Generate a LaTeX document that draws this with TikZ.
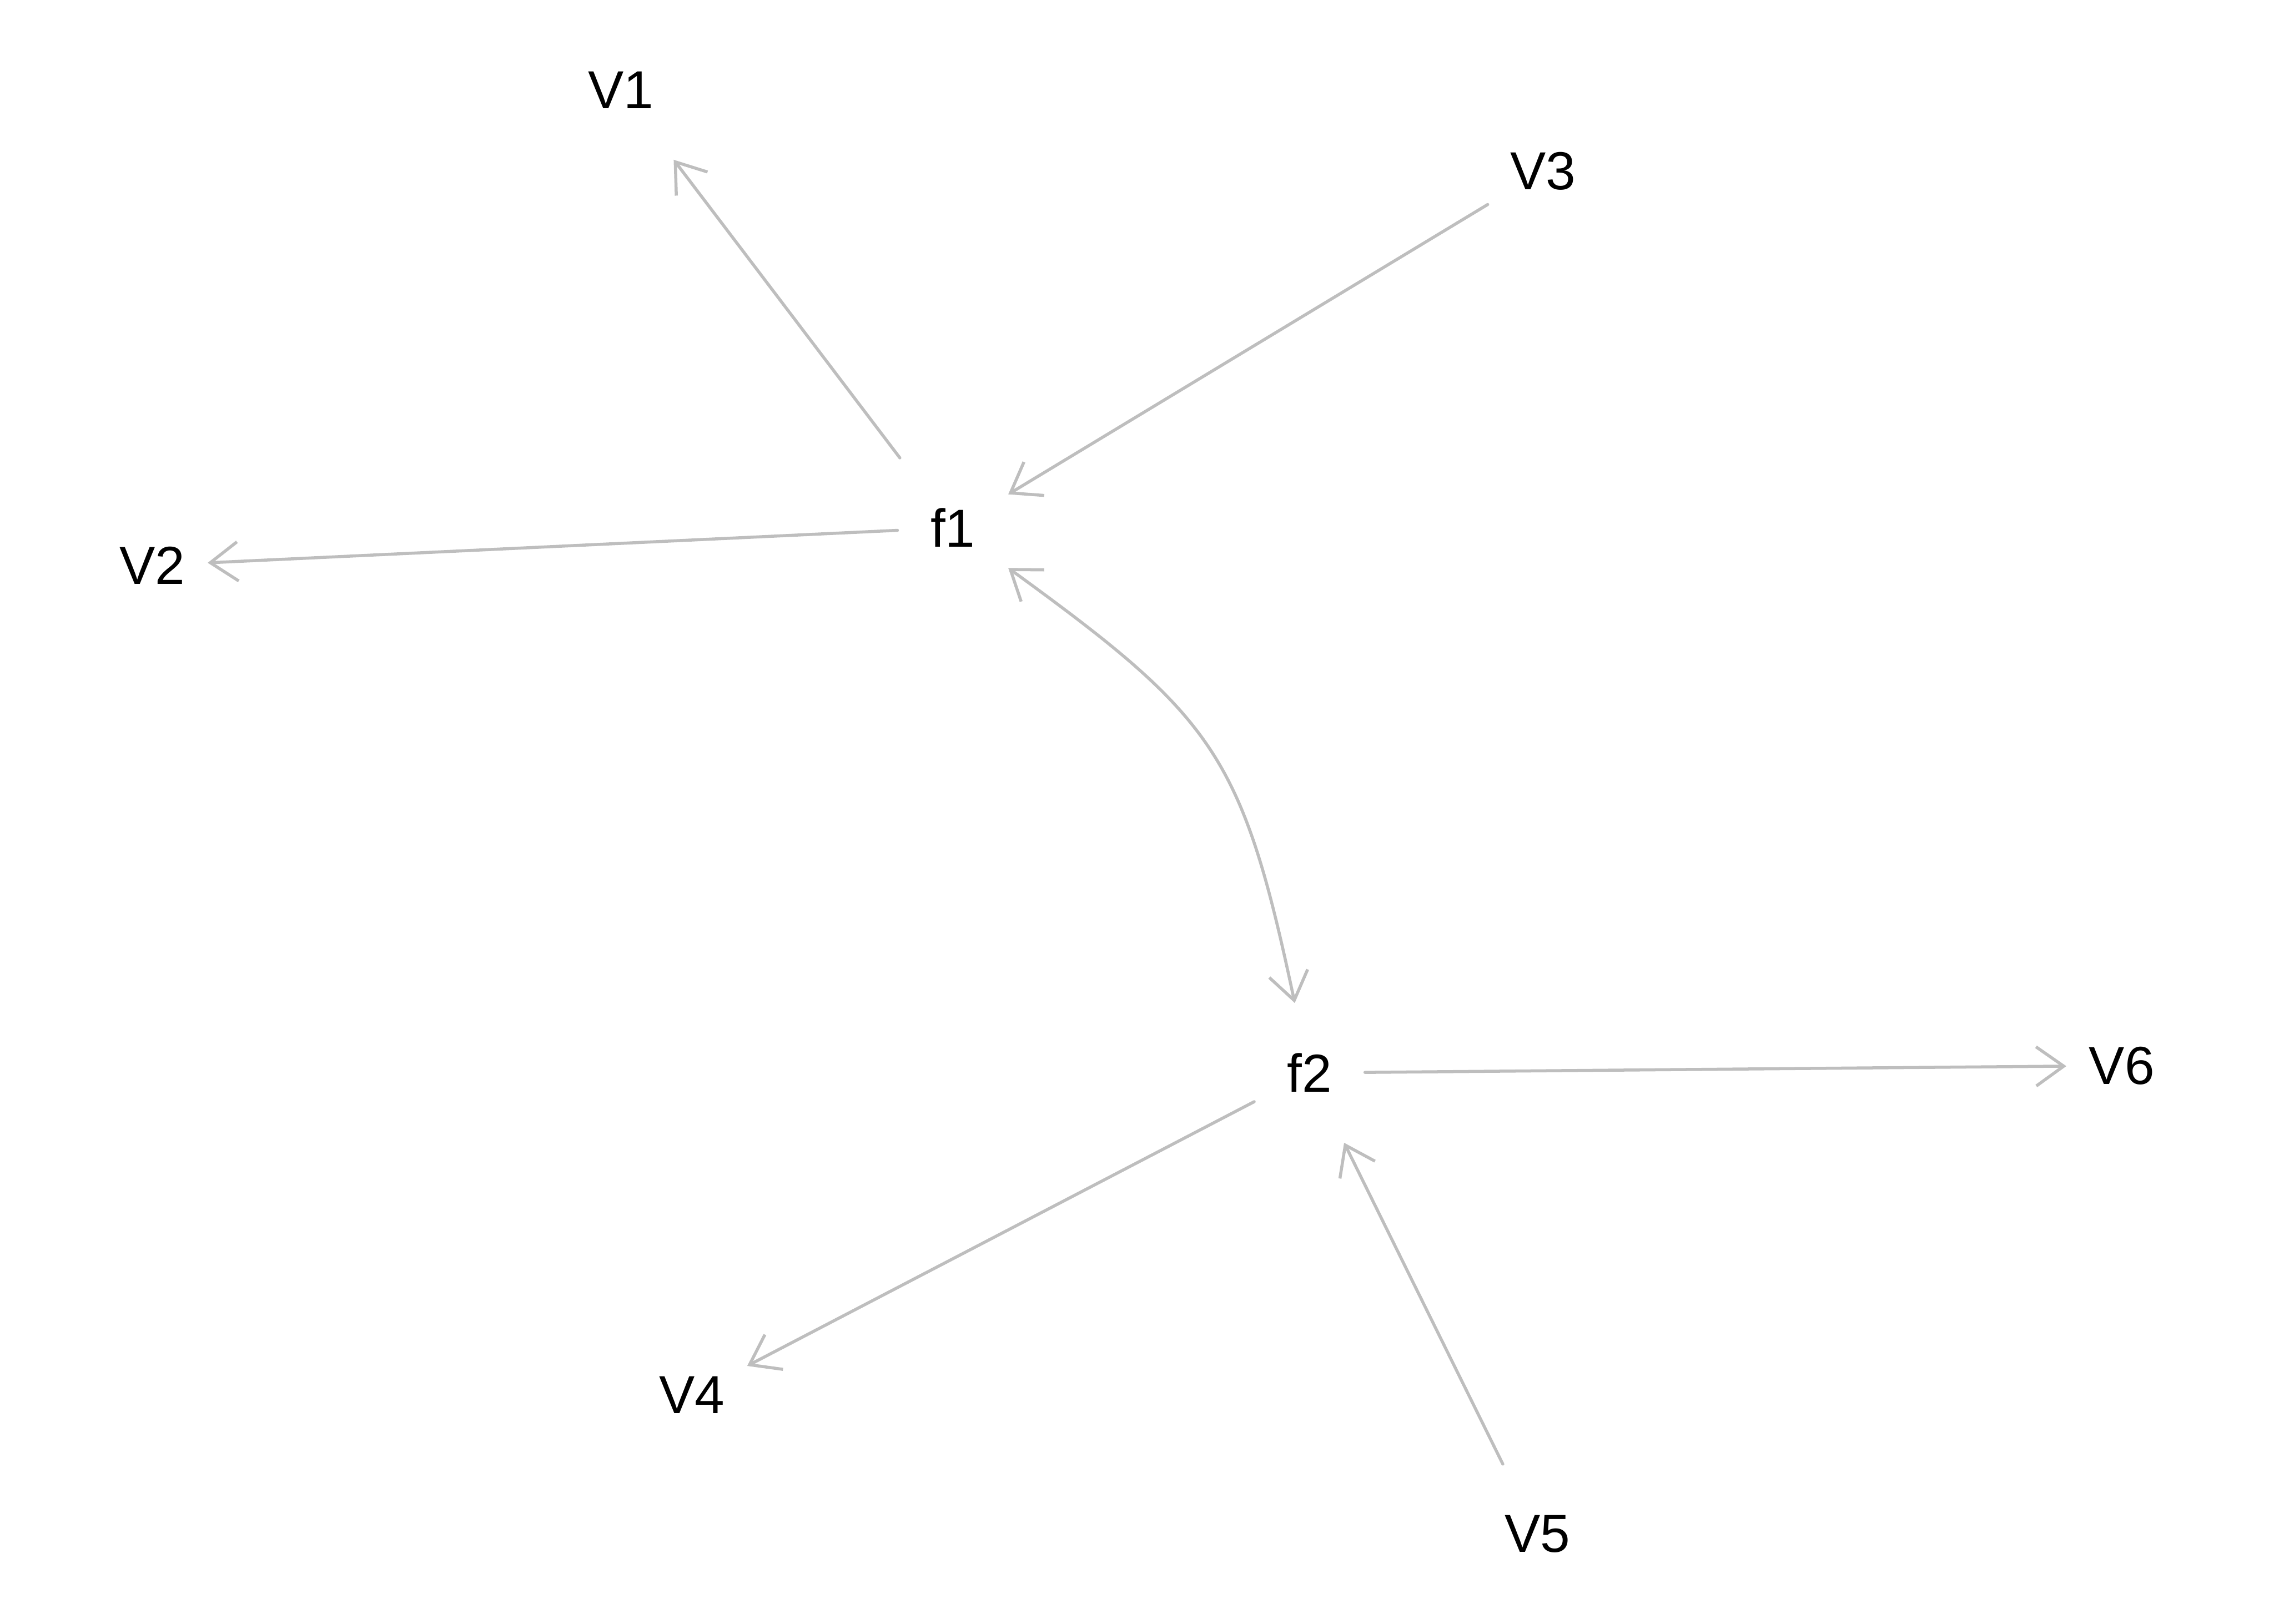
\documentclass[tikz,border=0pt]{standalone}
\usepackage{fontspec}
\setmainfont{Liberation Sans}
\usepackage{tikz}
\usetikzlibrary{arrows.meta}

\definecolor{pathgray}{RGB}{190,190,190}

\begin{document}
\begin{tikzpicture}[
    var/.style={rectangle, minimum width=0.75cm, minimum height=0.95cm, inner sep=0pt, font=\fontsize{10.5}{12}\selectfont},
    path/.style={draw=pathgray, line width=0.6pt, line cap=round, line join=round},
    >={Straight Barb[length=0.19cm, width=0.27cm]}
  ]
  % Fix the size of the canvas
  \useasboundingbox (0,0) rectangle (15.68,11.2);

  % Latent factors
  \node[var] (f1) at (6.57,7.56) {f1};
  \node[var] (f2) at (9.03,3.80) {f2};

  % Observed variables around the factors
  \foreach \name/\x/\y in {V1/4.28/10.58, V2/1.05/7.30, V3/10.64/10.02, V4/4.77/1.58, V5/10.60/0.62, V6/14.63/3.85} {
    \node[var] (\name) at (\x,\y) {\name};
  }

  % Loadings
  \draw[path, ->] (f1) -- (V1);
  \draw[path, ->] (f1) -- (V2);
  \draw[path, ->] (V3) -- (f1);
  \draw[path, ->] (f2) -- (V4);
  \draw[path, ->] (V5) -- (f2);
  \draw[path, ->] (f2) -- (V6);

  % Covariance between the factors
  \draw[path, <->] (f1) to[out=-36,in=102,looseness=1.25] (f2);
\end{tikzpicture}
\end{document}
